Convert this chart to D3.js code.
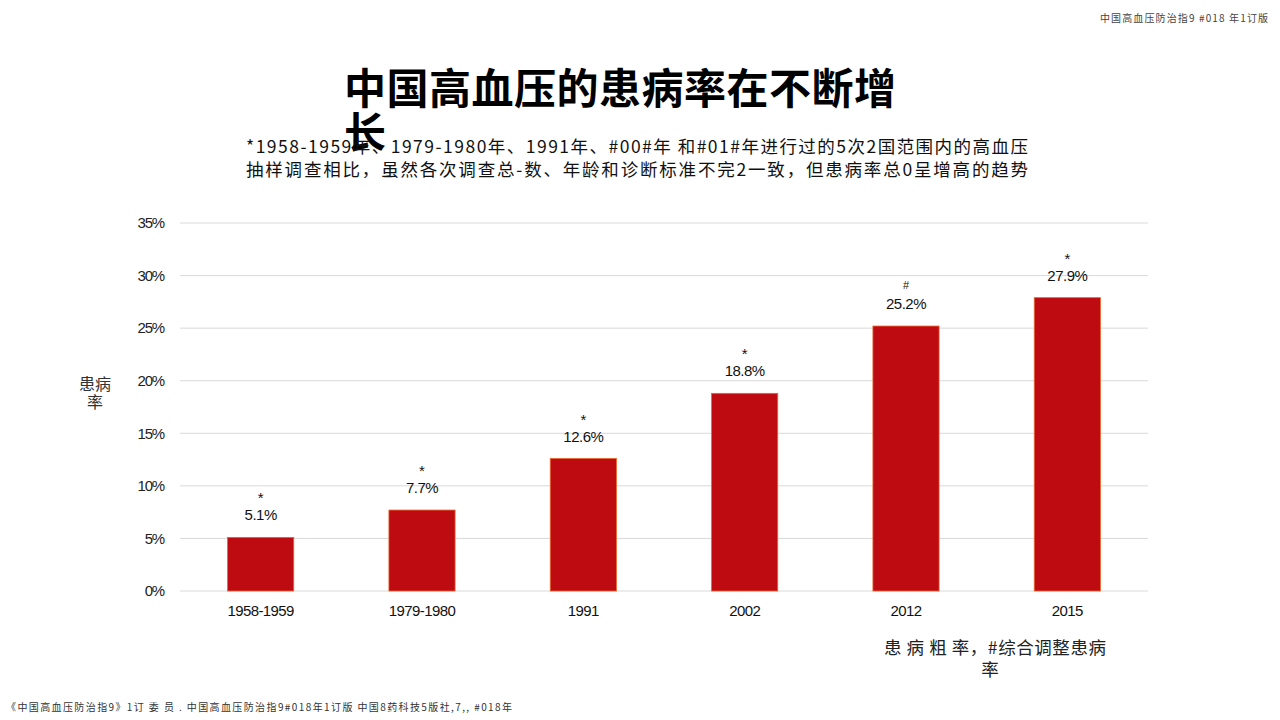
<!DOCTYPE html>
<html>
<head>
<meta charset="utf-8">
<script src="https://cdn.jsdelivr.net/npm/d3@7"></script>
<style>
  body { margin: 0; background: #fff; }
  svg { display: block; font-family: "Liberation Sans", Arial, "Noto Sans CJK SC", sans-serif; }
</style>
</head>
<body>
<div id="chart"></div>
<script>
// survey years and crude prevalence (%)
const years = ["1958-1959", "1979-1980", "1991", "2002", "2012", "2015"];
const prevalence = [5.1, 7.7, 12.6, 18.8, 25.2, 27.9];
const marks = ["*", "*", "*", "*", "#", "*"];
const yTicks = [0, 5, 10, 15, 20, 25, 30, 35];

const W = 1280, H = 720;
const svg = d3.select("#chart").append("svg")
    .attr("width", W)
    .attr("height", H);

const cjk = '"Noto Sans CJK SC", "Liberation Sans", sans-serif';

// header / footer notes
svg.append("text")
    .attr("x", 1268).attr("y", 22)
    .attr("text-anchor", "end")
    .attr("textLength", 168)
    .style("font-family", cjk)
    .style("font-size", "10px")
    .style("fill", "#444")
    .text("中国高血压防治指9 #018 年1订版");

svg.append("text")
    .attr("x", 6).attr("y", 711)
    .attr("textLength", 506)
    .style("font-family", cjk)
    .style("font-size", "10px")
    .style("fill", "#333")
    .text("《中国高血压防治指9》1订 委 员 . 中国高血压防治指9#018年1订版 中国8药科技5版社,7,,   #018年");

// title
svg.append("text")
    .attr("x", 344).attr("y", 104)
    .attr("textLength", 552)
    .style("font-family", cjk)
    .style("font-size", "42px")
    .style("font-weight", "bold")
    .text("中国高血压的患病率在不断增");
svg.append("text")
    .attr("x", 344).attr("y", 148)
    .style("font-family", cjk)
    .style("font-size", "42px")
    .style("font-weight", "bold")
    .text("长");

// subtitle
const sub = ["*1958-1959年、1979-1980年、1991年、#00#年 和#01#年进行过的5次2国范围内的高血压",
             "抽样调查相比，虽然各次调查总-数、年龄和诊断标准不完2一致，但患病率总0呈增高的趋势"];
svg.selectAll(".sub")
  .data(sub)
  .join("text")
    .attr("class", "sub")
    .attr("x", 246)
    .attr("y", (d, i) => 153 + i * 23)
    .attr("textLength", 782)
    .style("font-family", cjk)
    .style("font-size", "17.5px")
    .style("fill", "#111")
    .text(d => d);

// scales
const x = d3.scaleBand()
    .domain(years)
    .range([180, 1148])
    .paddingInner(0.59)
    .paddingOuter(0.295);

const y = d3.scaleLinear()
    .domain([0, 35])
    .range([591, 223]);

// gridlines
svg.append("g")
  .selectAll("line")
  .data(yTicks)
  .join("line")
    .attr("x1", 180).attr("x2", 1148)
    .attr("y1", d => y(d)).attr("y2", d => y(d))
    .style("stroke", "#d9d9d9")
    .style("stroke-width", 1);

// y axis
const yAxis = svg.append("g")
    .attr("transform", "translate(161,0)")
    .call(d3.axisLeft(y).tickValues(yTicks).tickFormat(d => d + "%").tickSize(0));
yAxis.select(".domain").remove();
yAxis.selectAll("text")
    .style("font-family", '"Liberation Sans", Arial, sans-serif')
    .style("font-size", "15px")
    .style("letter-spacing", "-1.2px")
    .style("fill", "#222")
    .attr("dx", "6");

// y axis title
svg.append("text")
    .attr("x", 95).attr("y", 390)
    .attr("text-anchor", "middle")
    .style("font-family", cjk)
    .style("font-size", "16px")
    .style("fill", "#333")
    .text("患病");
svg.append("text")
    .attr("x", 95).attr("y", 408)
    .attr("text-anchor", "middle")
    .style("font-family", cjk)
    .style("font-size", "16px")
    .style("fill", "#333")
    .text("率");

// bars
const data = years.map((d, i) => ({ year: d, v: prevalence[i], m: marks[i] }));

svg.append("g")
  .selectAll("rect")
  .data(data)
  .join("rect")
    .attr("x", d => x(d.year))
    .attr("y", d => y(d.v))
    .attr("width", x.bandwidth())
    .attr("height", d => y(0) - y(d.v))
    .style("fill", "#BE0A11")
    .style("stroke", "#E8642A")
    .style("stroke-width", 0.8);

// x axis labels
const xAxis = svg.append("g")
    .attr("transform", "translate(0,602)")
    .call(d3.axisBottom(x).tickSize(0));
xAxis.select(".domain").remove();
xAxis.selectAll("text")
    .style("font-family", '"Liberation Sans", Arial, sans-serif')
    .style("font-size", "15px")
    .style("letter-spacing", "-0.6px")
    .style("fill", "#111");

// value labels
svg.append("g")
  .selectAll("text")
  .data(data)
  .join("text")
    .attr("x", d => x(d.year) + x.bandwidth() / 2)
    .attr("y", d => y(d.v) - 17)
    .attr("text-anchor", "middle")
    .style("font-size", "15px")
    .style("letter-spacing", "-0.5px")
    .style("fill", "#111")
    .text(d => d.v.toFixed(1) + "%");

// significance marks
svg.append("g")
  .selectAll("text")
  .data(data)
  .join("text")
    .attr("x", d => x(d.year) + x.bandwidth() / 2)
    .attr("y", d => y(d.v) - (d.m === "#" ? 37 : 34))
    .attr("text-anchor", "middle")
    .style("font-size", d => d.m === "#" ? "11px" : "15px")
    .style("fill", "#111")
    .text(d => d.m);

// footnote
svg.append("text")
    .attr("x", 995).attr("y", 654)
    .attr("text-anchor", "middle")
    .attr("textLength", 222)
    .style("font-family", cjk)
    .style("font-size", "17.5px")
    .style("fill", "#222")
    .text("患 病 粗 率，#综合调整患病");
svg.append("text")
    .attr("x", 990).attr("y", 676)
    .attr("text-anchor", "middle")
    .style("font-family", cjk)
    .style("font-size", "17.5px")
    .style("fill", "#222")
    .text("率");
</script>
</body>
</html>
